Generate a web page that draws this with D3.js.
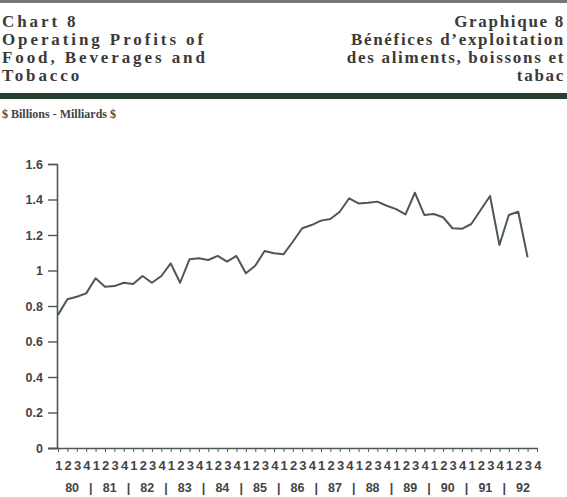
<!DOCTYPE html>
<html>
<head>
<meta charset="utf-8">
<script src="https://cdn.jsdelivr.net/npm/d3@7/dist/d3.min.js"></script>
<style>
  body { margin: 0; background: #fff; }
  svg { display: block; }
</style>
</head>
<body>
<svg id="chart"></svg>
<script>
// quarterly operating profits, Q1 1980 .. Q3 1992 ($ billions)
var years = ["80", "81", "82", "83", "84", "85", "86", "87", "88", "89", "90", "91", "92"]
var quarters = ["1", "2", "3", "4"]
var profits = [
  0.75, 0.838, 0.852, 0.871,
  0.956, 0.909, 0.912, 0.931,
  0.924, 0.969, 0.931, 0.969,
  1.04, 0.931, 1.063, 1.069,
  1.059, 1.082, 1.05, 1.082,
  0.984, 1.027, 1.11, 1.097,
  1.091, 1.162, 1.238, 1.256,
  1.281, 1.29, 1.331, 1.407,
  1.378, 1.382, 1.388, 1.365,
  1.346, 1.316, 1.438, 1.313,
  1.318, 1.30, 1.238, 1.235,
  1.262, 1.341, 1.42, 1.144,
  1.313, 1.331, 1.074
]
var yTicks = [0, 0.2, 0.4, 0.6, 0.8, 1, 1.2, 1.4, 1.6]

var titleEn = ["Chart 8", "Operating Profits of", "Food, Beverages and", "Tobacco"]
var titleFr = ["Graphique 8", "Bénéfices d\u2019exploitation", "des aliments, boissons et", "tabac"]

var W = 567, H = 497
var svg = d3.select("#chart").attr("width", W).attr("height", H)

var ink = "#4d5856"

// header rules
svg.append("rect").attr("x", 0).attr("y", 0).attr("width", W).attr("height", 3).attr("fill", "#777")
svg.append("rect").attr("x", 0).attr("y", 93).attr("width", W).attr("height", 6).attr("fill", "#27402f")

var serif = "'Liberation Serif', 'DejaVu Serif', serif"

svg.append("g").selectAll("text")
    .data(titleEn)
    .enter().append("text")
    .attr("x", 2)
    .attr("y", (d, i) => 27 + i * 18)
    .attr("font-family", serif)
    .attr("font-weight", "bold")
    .attr("font-size", 17)
    .attr("letter-spacing", 2.9)
    .attr("fill", "#3a3a3a")
    .text(d => d)

svg.append("g").selectAll("text")
    .data(titleFr)
    .enter().append("text")
    .attr("x", 565)
    .attr("y", (d, i) => 27 + i * 18)
    .attr("text-anchor", "end")
    .attr("font-family", serif)
    .attr("font-weight", "bold")
    .attr("font-size", 17)
    .attr("letter-spacing", 1.7)
    .attr("fill", "#3a3a3a")
    .text(d => d)

svg.append("text")
    .attr("x", 2).attr("y", 118)
    .attr("font-family", serif)
    .attr("font-weight", "bold")
    .attr("font-size", 12)
    .attr("fill", "#444")
    .text("$ Billions - Milliards $")

var nQ = years.length * quarters.length
var x = d3.scaleLinear().domain([0, nQ - 1]).range([58, 537])
var y = d3.scaleLinear().domain([0, 1.6]).range([448, 164])

var sans = "'Liberation Sans', Arial, sans-serif"

// y axis
var yAxis = svg.append("g")
    .attr("transform", "translate(57,0)")
    .call(d3.axisLeft(y).tickValues(yTicks).tickSize(9).tickPadding(5).tickFormat(d3.format("~g")))
yAxis.select(".domain").attr("stroke", ink).attr("stroke-width", 1.6)
yAxis.selectAll(".tick line").attr("stroke", ink).attr("stroke-width", 1.4)
yAxis.selectAll(".tick text")
    .attr("font-family", sans).attr("font-weight", "bold").attr("font-size", 12.5).attr("fill", "#444")

// x axis (quarters)
var qIdx = d3.range(nQ)
var xAxis = svg.append("g")
    .attr("transform", "translate(0,448)")
    .call(d3.axisBottom(x).tickValues(qIdx).tickSize(4).tickPadding(9)
        .tickFormat(i => quarters[i % 4]))
xAxis.select(".domain").attr("d", "M48,0.5H538").attr("stroke", ink).attr("stroke-width", 1.6)
xAxis.selectAll(".tick line").attr("stroke", ink).attr("stroke-width", 1)
xAxis.selectAll(".tick text")
    .attr("font-family", sans).attr("font-weight", "bold").attr("font-size", 13)
    .attr("letter-spacing", -0.5).attr("fill", "#444")

// year labels with separators
var yearG = svg.append("g").attr("font-family", sans).attr("font-weight", "bold")
    .attr("font-size", 12.5).attr("fill", "#444")
yearG.selectAll("text.year")
    .data(years)
    .enter().append("text")
    .attr("class", "year")
    .attr("x", (d, i) => x(i * 4 + 1.5))
    .attr("y", 492)
    .attr("text-anchor", "middle")
    .text(d => d)
yearG.selectAll("text.sep")
    .data(years.slice(1))
    .enter().append("text")
    .attr("class", "sep")
    .attr("x", (d, i) => x((i + 1) * 4 - 0.5))
    .attr("y", 492)
    .attr("text-anchor", "middle")
    .text("|")

// line
var line = d3.line()
    .x((d, i) => x(i))
    .y(d => y(d))

svg.append("path")
    .datum(profits)
    .attr("d", line)
    .attr("fill", "none")
    .attr("stroke", ink)
    .attr("stroke-width", 2)
    .attr("stroke-linejoin", "round")
</script>
</body>
</html>
